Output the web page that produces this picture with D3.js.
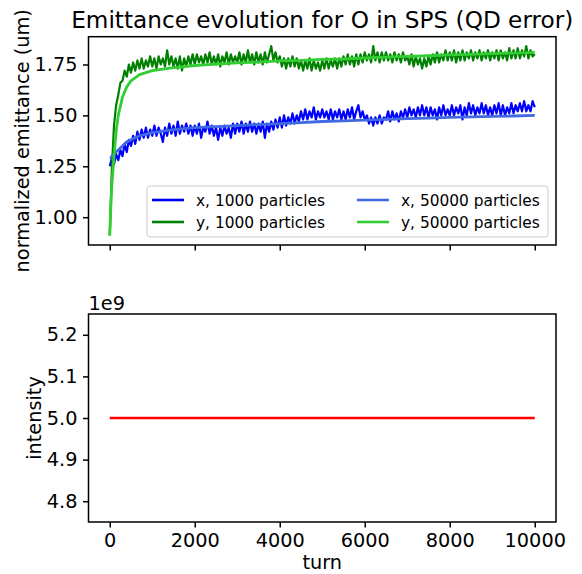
<!DOCTYPE html>
<html>
<head>
<meta charset="utf-8">
<script src="https://cdn.jsdelivr.net/npm/d3@7"></script>
<style>
	body { margin: 0; background: white; }
	svg text { font-family: "DejaVu Sans", sans-serif; fill: black; }
</style>
</head>
<body>
<div id="chart"></div>
<script>

// ---- data ----

// turns sampled every 50 for the 1000 particle runs
const turns1000 = d3.range(0, 10001, 50);

const emitX1000 = [
	1.25, 1.29, 1.26, 1.31, 1.28, 1.33, 1.30, 1.36, 1.32, 1.38,
	1.35, 1.40, 1.36, 1.42, 1.38, 1.43, 1.39, 1.44, 1.39, 1.43,
	1.40, 1.45, 1.40, 1.44, 1.41, 1.37, 1.44, 1.40, 1.46, 1.41,
	1.45, 1.40, 1.47, 1.41, 1.45, 1.42, 1.46, 1.41, 1.45, 1.40,
	1.45, 1.41, 1.46, 1.39, 1.44, 1.42, 1.47, 1.41, 1.45, 1.40,
	1.44, 1.38, 1.44, 1.40, 1.45, 1.41, 1.44, 1.39, 1.46, 1.41,
	1.46, 1.42, 1.47, 1.41, 1.46, 1.42, 1.47, 1.42, 1.46, 1.41,
	1.46, 1.42, 1.47, 1.39, 1.46, 1.42, 1.47, 1.43, 1.48, 1.44,
	1.49, 1.44, 1.50, 1.45, 1.49, 1.46, 1.51, 1.46, 1.50, 1.47,
	1.52, 1.48, 1.53, 1.48, 1.52, 1.49, 1.54, 1.48, 1.52, 1.49,
	1.53, 1.49, 1.52, 1.48, 1.53, 1.48, 1.52, 1.49, 1.53, 1.48,
	1.52, 1.48, 1.53, 1.49, 1.54, 1.48, 1.52, 1.55, 1.49, 1.52,
	1.48, 1.50, 1.46, 1.49, 1.45, 1.49, 1.46, 1.50, 1.46, 1.49,
	1.48, 1.52, 1.47, 1.52, 1.48, 1.51, 1.47, 1.52, 1.49, 1.53,
	1.49, 1.54, 1.50, 1.53, 1.49, 1.54, 1.50, 1.55, 1.50, 1.54,
	1.49, 1.54, 1.50, 1.53, 1.48, 1.54, 1.50, 1.55, 1.50, 1.53,
	1.50, 1.55, 1.50, 1.54, 1.51, 1.55, 1.48, 1.54, 1.50, 1.56,
	1.51, 1.55, 1.50, 1.54, 1.51, 1.56, 1.51, 1.55, 1.50, 1.54,
	1.50, 1.55, 1.51, 1.56, 1.50, 1.55, 1.50, 1.54, 1.51, 1.56,
	1.51, 1.55, 1.52, 1.56, 1.52, 1.57, 1.52, 1.55, 1.52, 1.57,
	1.54
];

const emitY1000 = [
	0.91, 1.24, 1.45, 1.55, 1.60, 1.66, 1.67, 1.72, 1.69, 1.75,
	1.71, 1.76, 1.72, 1.77, 1.73, 1.78, 1.73, 1.77, 1.74, 1.79,
	1.74, 1.78, 1.73, 1.79, 1.75, 1.78, 1.74, 1.82, 1.75, 1.79,
	1.74, 1.78, 1.73, 1.79, 1.72, 1.78, 1.74, 1.79, 1.75, 1.80,
	1.75, 1.80, 1.76, 1.79, 1.75, 1.80, 1.76, 1.81, 1.75, 1.79,
	1.75, 1.80, 1.74, 1.79, 1.76, 1.81, 1.75, 1.80, 1.76, 1.79,
	1.76, 1.81, 1.75, 1.80, 1.76, 1.82, 1.76, 1.80, 1.75, 1.81,
	1.76, 1.80, 1.75, 1.81, 1.76, 1.80, 1.84, 1.77, 1.81, 1.76,
	1.79, 1.74, 1.78, 1.73, 1.78, 1.74, 1.79, 1.74, 1.78, 1.73,
	1.77, 1.72, 1.77, 1.73, 1.78, 1.72, 1.77, 1.73, 1.76, 1.72,
	1.77, 1.73, 1.78, 1.73, 1.77, 1.74, 1.78, 1.73, 1.78, 1.74,
	1.79, 1.75, 1.80, 1.75, 1.79, 1.74, 1.80, 1.75, 1.80, 1.76,
	1.81, 1.77, 1.80, 1.76, 1.84, 1.77, 1.81, 1.76, 1.81, 1.77,
	1.81, 1.77, 1.80, 1.76, 1.81, 1.77, 1.80, 1.76, 1.81, 1.77,
	1.79, 1.75, 1.80, 1.74, 1.79, 1.75, 1.78, 1.73, 1.78, 1.74,
	1.79, 1.75, 1.80, 1.76, 1.81, 1.76, 1.80, 1.77, 1.82, 1.77,
	1.81, 1.77, 1.82, 1.76, 1.81, 1.77, 1.82, 1.77, 1.81, 1.78,
	1.82, 1.77, 1.81, 1.78, 1.82, 1.77, 1.81, 1.78, 1.82, 1.77,
	1.81, 1.78, 1.82, 1.77, 1.82, 1.78, 1.81, 1.77, 1.83, 1.78,
	1.82, 1.78, 1.83, 1.78, 1.82, 1.79, 1.84, 1.78, 1.82, 1.79,
	1.80
];

// the 50000 particle runs are smooth, fewer samples needed
const turns50000 = [0, 25, 50, 100, 150, 200, 300, 400, 500, 700, 1000, 1500, 2000, 2500,
	3000, 3500, 4000, 4500, 5000, 5500, 6000, 6500, 7000, 7500, 8000, 8500, 9000, 9500, 10000];

const emitX50000 = [1.29, 1.29, 1.30, 1.31, 1.32, 1.33, 1.35, 1.37, 1.38, 1.40, 1.415, 1.43, 1.44, 1.445,
	1.45, 1.455, 1.46, 1.465, 1.47, 1.473, 1.477, 1.48, 1.484, 1.487, 1.49, 1.493, 1.495, 1.497, 1.50];

const emitY50000 = [0.91, 1.05, 1.16, 1.30, 1.42, 1.50, 1.59, 1.64, 1.67, 1.70, 1.72, 1.735, 1.745, 1.752,
	1.758, 1.762, 1.768, 1.770, 1.775, 1.777, 1.782, 1.786, 1.790, 1.793, 1.797, 1.800, 1.803, 1.806, 1.810];

const intensityTurns = [0, 10000];
const intensity = [5e9, 5e9];

const seriesNames = ["x, 1000 particles", "y, 1000 particles", "x, 50000 particles", "y, 50000 particles"];
const seriesColors = ["#0000ff", "#008000", "#4169e1", "#32cd32"];
const seriesWidths = [2.2, 2.2, 2.8, 2.8];

const turnTicks = [0, 2000, 4000, 6000, 8000, 10000];
const emitTicks = [1.00, 1.25, 1.50, 1.75];
const intensityTicks = [4.8e9, 4.9e9, 5.0e9, 5.1e9, 5.2e9];

// ---- layout ----
const W = 582, H = 574;
const left = 88.5, right = 556;
const top1 = 36.7, bottom1 = 245;
const top2 = 314, bottom2 = 522;
const tickLen = 5.5, tickPad = 5.5;
const fontSize = 19.3;

const svg = d3.select("#chart").append("svg")
	.attr("width", W)
	.attr("height", H);

// matplotlib style 5% margins
function padded(lo, hi) {
	let m = (hi - lo) * 0.05;
	return [lo - m, hi + m];
}

const x = d3.scaleLinear()
	.domain(padded(0, 10000))
	.range([left, right]);

const allEmit = emitX1000.concat(emitY1000, emitX50000, emitY50000);
const y1 = d3.scaleLinear()
	.domain(padded(d3.min(allEmit), d3.max(allEmit)))
	.range([bottom1, top1]);

const y2 = d3.scaleLinear()
	.domain([intensity[0] * 0.95, intensity[0] * 1.05])
	.range([bottom2, top2]);

// draws the frame, ticks and tick labels of one panel
function frame(yScale, yTicks, yFormat, yTop, yBottom, showXLabels) {
	let g = svg.append("g");

	let xAxis = d3.axisBottom(x)
		.tickValues(turnTicks)
		.tickSize(tickLen)
		.tickPadding(tickPad)
		.tickFormat(showXLabels ? d3.format("d") : "");
	g.append("g")
		.attr("transform", "translate(0," + yBottom + ")")
		.call(xAxis);

	let yAxis = d3.axisLeft(yScale)
		.tickValues(yTicks)
		.tickSize(tickLen)
		.tickPadding(tickPad)
		.tickFormat(yFormat);
	g.append("g")
		.attr("transform", "translate(" + left + ",0)")
		.call(yAxis);

	g.selectAll(".domain").remove();
	g.selectAll(".tick line")
		.attr("stroke", "black")
		.attr("stroke-width", 1.5);
	g.selectAll(".tick text")
		.style("font-size", fontSize + "px")
		.attr("fill", "black");

	g.append("rect")
		.attr("x", left)
		.attr("y", yTop)
		.attr("width", right - left)
		.attr("height", yBottom - yTop)
		.attr("fill", "none")
		.attr("stroke", "black")
		.attr("stroke-width", 1.5);
	return g;
}

// ---- top panel: emittance ----
const series = [
	{ turns: turns1000, values: emitX1000 },
	{ turns: turns1000, values: emitY1000 },
	{ turns: turns50000, values: emitX50000 },
	{ turns: turns50000, values: emitY50000 }
];

series.forEach(function (s, k) {
	let line = d3.line()
		.x((d, i) => x(s.turns[i]))
		.y(d => y1(d));
	svg.append("path")
		.datum(s.values)
		.attr("d", line)
		.attr("fill", "none")
		.attr("stroke", seriesColors[k])
		.attr("stroke-width", seriesWidths[k])
		.attr("stroke-linejoin", "round");
});

frame(y1, emitTicks, d3.format(".2f"), top1, bottom1, false);

svg.append("text")
	.attr("x", (left + right) / 2)
	.attr("y", 28)
	.attr("text-anchor", "middle")
	.style("font-size", "23.2px")
	.text("Emittance evolution for O in SPS (QD error)");

svg.append("text")
	.attr("transform", "translate(29," + ((top1 + bottom1) / 2) + ") rotate(-90)")
	.attr("text-anchor", "middle")
	.style("font-size", fontSize + "px")
	.text("normalized emittance (um)");

// legend, two columns filled column first
const legend = svg.append("g");
legend.append("rect")
	.attr("x", 147)
	.attr("y", 186)
	.attr("width", 401)
	.attr("height", 51)
	.attr("rx", 3)
	.attr("fill", "white")
	.attr("fill-opacity", 0.8)
	.attr("stroke", "#cccccc")
	.attr("stroke-width", 1);

seriesNames.forEach(function (name, k) {
	let col = Math.floor(k / 2), row = k % 2;
	let hx = col === 0 ? 152 : 357;
	let cy = 200 + row * 22;
	legend.append("line")
		.attr("x1", hx)
		.attr("x2", hx + 32)
		.attr("y1", cy)
		.attr("y2", cy)
		.attr("stroke", seriesColors[k])
		.attr("stroke-width", 2.6);
	legend.append("text")
		.attr("x", hx + 44)
		.attr("y", cy)
		.attr("dy", "0.36em")
		.style("font-size", "15.4px")
		.text(name);
});

// ---- bottom panel: intensity ----
svg.append("path")
	.datum(intensity)
	.attr("d", d3.line()
		.x((d, i) => x(intensityTurns[i]))
		.y(d => y2(d)))
	.attr("fill", "none")
	.attr("stroke", "#ff0000")
	.attr("stroke-width", 2.4);

frame(y2, intensityTicks, d => d3.format(".1f")(d / 1e9), top2, bottom2, true);

svg.append("text")
	.attr("x", left)
	.attr("y", 310)
	.style("font-size", fontSize + "px")
	.text("1e9");

svg.append("text")
	.attr("transform", "translate(41," + ((top2 + bottom2) / 2) + ") rotate(-90)")
	.attr("text-anchor", "middle")
	.style("font-size", fontSize + "px")
	.text("intensity");

svg.append("text")
	.attr("x", (left + right) / 2)
	.attr("y", 569)
	.attr("text-anchor", "middle")
	.style("font-size", fontSize + "px")
	.text("turn");

</script>
</body>
</html>
